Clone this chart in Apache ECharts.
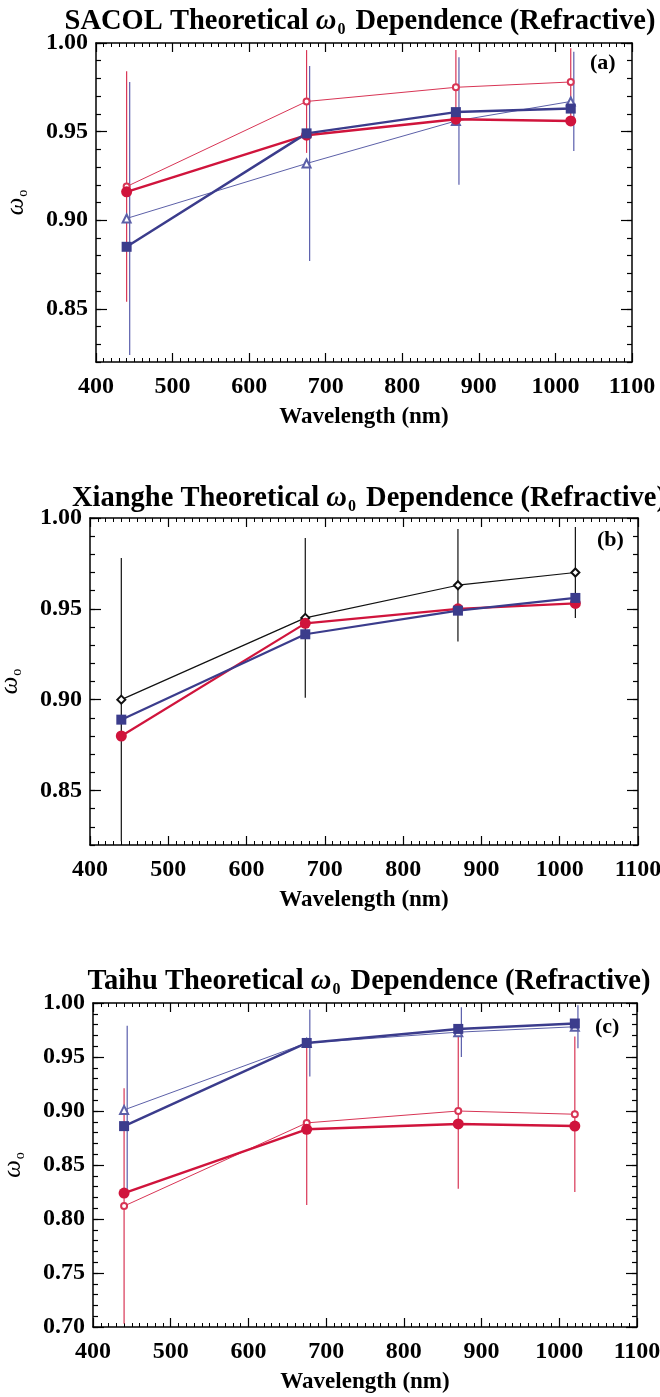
<!DOCTYPE html>
<html><head><meta charset="utf-8">
<script src="https://cdn.jsdelivr.net/npm/echarts@6/dist/echarts.min.js"></script>
<style>html,body{margin:0;padding:0;background:#fff}#c{width:660px;height:1397px}</style>
</head><body><div id="c"></div>
<script>
// ---------- data ----------
const wavelengths = [440, 675, 870, 1020];
const xTickStep = 100;
const yMajorStep = 0.05;
const yMinorStep = 0.01;

// (a) SACOL
const sacolRedFilled   = [0.916, 0.948, 0.957, 0.956];
const sacolRedOpen     = [0.919, 0.967, 0.975, 0.978];
const sacolBlueSquare  = [0.885, 0.949, 0.961, 0.963];
const sacolBlueTri     = [0.901, 0.932, 0.956, 0.967];
const sacolRedErr      = [0.065, 0.029, 0.021, 0.019];
const sacolBlueErr     = [0.077, 0.055, 0.036, 0.028];

// (b) Xianghe
const xhBlackOpen      = [0.900, 0.945, 0.963, 0.970];
const xhRedFilled      = [0.880, 0.942, 0.950, 0.953];
const xhBlueSquare     = [0.889, 0.936, 0.949, 0.956];
const xhBlackErr       = [0.078, 0.044, 0.031, 0.025];

// (c) Taihu
const thBlueSquare     = [0.886, 0.963, 0.976, 0.981];
const thBlueTri        = [0.901, 0.963, 0.973, 0.978];
const thRedFilled      = [0.824, 0.883, 0.888, 0.886];
const thRedOpen        = [0.812, 0.889, 0.900, 0.897];
const thBlueErr        = [0.078, 0.031, 0.023, 0.020];
const thRedErr         = [0.109, 0.076, 0.072, 0.072];

const blueErrShift = 4; // nm, error bars drawn slightly right of the point

const titles = ['SACOL', 'Xianghe', 'Taihu'];
const tags = ['(a)', '(b)', '(c)'];
const yRanges = [[0.82, 1.00], [0.82, 1.00], [0.70, 1.00]];

// ---------- style ----------
const FONT = '"Liberation Serif","Times New Roman",serif';
const RED = '#d0143c', RED_THIN = '#d83555';
const BLUE = '#3b3c8c', BLUE_THIN = '#5c60a8', BLUE_ERR = '#5a5eac';
const BLACK = '#111111';

const grids = [
  {left: 96, top: 43, width: 536, height: 319},
  {left: 90, top: 518, width: 548, height: 327},
  {left: 93, top: 1003, width: 544, height: 324}
];
const titleCenters = [[355, 0], [364, 477], [364, 960]];
const tagPos = [[585, 47], [592, 524], [590, 1011]];

function majors(r) {
  const out = [];
  const k0 = Math.ceil(r[0] / yMajorStep - 1e-9), k1 = Math.floor(r[1] / yMajorStep + 1e-9);
  for (let k = k0; k <= k1; k++) out.push(+(k * yMajorStep).toFixed(2));
  return out;
}

const xAxis = [], yAxis = [], series = [], title = [];
const labelStyle = {fontFamily: FONT, fontWeight: 'bold', fontSize: 24, color: '#000'};
const nameStyle = {fontFamily: FONT, fontWeight: 'bold', fontSize: 23, color: '#000'};
const lineBlack = {color: '#000', width: 1.5};

grids.forEach((g, i) => {
  const r = yRanges[i];
  const mj = majors(r);
  ['bottom', 'top'].forEach(pos => {
    xAxis.push({
      gridIndex: i, type: 'value', position: pos, min: 400, max: 1100, interval: xTickStep,
      axisLine: {show: true, onZero: false, lineStyle: lineBlack},
      axisTick: {show: true, inside: true, length: 9, lineStyle: {color: '#000', width: 1.2}},
      minorTick: {show: true, splitNumber: 10, length: 4, lineStyle: {color: '#000', width: 1}},
      splitLine: {show: false}, minorSplitLine: {show: false},
      axisLabel: pos === 'bottom' ? Object.assign({margin: 13, formatter: v => String(v)}, labelStyle) : {show: false},
      name: pos === 'bottom' ? 'Wavelength (nm)' : '',
      nameLocation: 'middle', nameGap: 44,
      nameTextStyle: nameStyle
    });
  });
  ['left', 'right'].forEach(pos => {
    yAxis.push({
      gridIndex: i, type: 'value', position: pos, min: r[0], max: r[1], interval: yMinorStep,
      axisLine: {show: false},
      axisTick: {show: true, inside: true, length: 5, lineStyle: {color: '#000', width: 1.2}},
      axisLabel: {show: false}, splitLine: {show: false}
    });
    yAxis.push({
      gridIndex: i, type: 'value', position: pos, min: r[0], max: r[1],
      axisLine: {show: true, onZero: false, lineStyle: lineBlack},
      axisTick: {show: true, inside: true, length: 11, customValues: mj, lineStyle: {color: '#000', width: 1.2}},
      axisLabel: pos === 'left' ? Object.assign({margin: 8, customValues: mj, formatter: v => v.toFixed(2)}, labelStyle) : {show: false},
      splitLine: {show: false},
      name: pos === 'left' ? '{w|ω}{s|o}' : '',
      nameLocation: 'middle', nameRotate: 90, nameGap: 66,
      nameTextStyle: {rich: {
        w: {fontFamily: FONT, fontStyle: 'italic', fontSize: 25, color: '#000'},
        s: {fontFamily: FONT, fontSize: 14, color: '#000', padding: [13, 0, 0, 1]}
      }}
    });
  });
  title.push({
    text: '{b|' + titles[i] + ' Theoretical }{w|ω}{s|0}{b| Dependence (Refractive)}',
    left: titleCenters[i][0], top: titleCenters[i][1], textAlign: 'center',
    textStyle: {rich: {
      b: {fontFamily: FONT, fontWeight: 'bold', fontSize: 28.5, color: '#000'},
      w: {fontFamily: FONT, fontStyle: 'italic', fontSize: 28.5, color: '#000'},
      s: {fontFamily: FONT, fontWeight: 'bold', fontSize: 16, color: '#000', padding: [17, 3, 0, 1]}
    }}
  });
  title.push({
    text: tags[i], left: tagPos[i][0], top: tagPos[i][1],
    textStyle: {fontFamily: FONT, fontWeight: 'bold', fontSize: 22, color: '#000'}
  });
});

function pts(vals) { return wavelengths.map((w, k) => [w, vals[k]]); }
function bars(vals, errs, shift) { return wavelengths.map((w, k) => [w + shift, vals[k] - errs[k], vals[k] + errs[k]]); }

function lineSeries(i, vals, opt) {
  return {
    type: 'line', xAxisIndex: 2 * i, yAxisIndex: 4 * i + 1, data: pts(vals),
    symbol: opt.symbol, symbolSize: opt.size, showAllSymbol: true, animation: false,
    lineStyle: {color: opt.color, width: opt.width},
    itemStyle: {color: opt.color, borderColor: opt.color, borderWidth: opt.bw || 0},
    z: opt.z || 3
  };
}
function errSeries(i, vals, errs, color, shift) {
  return {
    type: 'custom', xAxisIndex: 2 * i, yAxisIndex: 4 * i + 1, clip: false, animation: false,
    data: bars(vals, errs, shift), encode: {x: 0, y: [1, 2]}, z: 2,
    renderItem: (params, api) => {
      const lo = api.coord([api.value(0), api.value(1)]);
      const hi = api.coord([api.value(0), api.value(2)]);
      return {type: 'line', shape: {x1: lo[0], y1: lo[1], x2: hi[0], y2: hi[1]},
              style: {stroke: color, lineWidth: 1.2}};
    }
  };
}

// (a)
series.push(errSeries(0, sacolRedOpen, sacolRedErr, RED_THIN, 0));
series.push(errSeries(0, sacolBlueTri, sacolBlueErr, BLUE_ERR, blueErrShift));
series.push(lineSeries(0, sacolRedOpen, {symbol: 'emptyCircle', size: 6, color: RED_THIN, width: 1, bw: 1}));
series.push(lineSeries(0, sacolBlueTri, {symbol: 'emptyTriangle', size: 8, color: BLUE_THIN, width: 1, bw: 1}));
series.push(lineSeries(0, sacolRedFilled, {symbol: 'circle', size: 11, color: RED, width: 2.5, z: 4}));
series.push(lineSeries(0, sacolBlueSquare, {symbol: 'rect', size: 10, color: BLUE, width: 2.5, z: 4}));
// (b)
series.push(errSeries(1, xhBlackOpen, xhBlackErr, BLACK, 0));
series.push(lineSeries(1, xhBlackOpen, {symbol: 'emptyDiamond', size: 8, color: BLACK, width: 1.2, bw: 1}));
series.push(lineSeries(1, xhRedFilled, {symbol: 'circle', size: 11, color: RED, width: 2.2, z: 4}));
series.push(lineSeries(1, xhBlueSquare, {symbol: 'rect', size: 10, color: BLUE, width: 2.2, z: 4}));
// (c)
series.push(errSeries(2, thRedOpen, thRedErr, RED_THIN, 0));
series.push(errSeries(2, thBlueTri, thBlueErr, BLUE_ERR, blueErrShift));
series.push(lineSeries(2, thRedOpen, {symbol: 'emptyCircle', size: 6, color: RED_THIN, width: 1, bw: 1}));
series.push(lineSeries(2, thBlueTri, {symbol: 'emptyTriangle', size: 8, color: BLUE_THIN, width: 1, bw: 1}));
series.push(lineSeries(2, thRedFilled, {symbol: 'circle', size: 11, color: RED, width: 2.5, z: 4}));
series.push(lineSeries(2, thBlueSquare, {symbol: 'rect', size: 10, color: BLUE, width: 2.5, z: 4}));

const chart = echarts.init(document.getElementById('c'), null, {renderer: 'canvas'});
chart.setOption({
  animation: false,
  backgroundColor: '#fff',
  title: title,
  grid: grids.map(g => Object.assign({containLabel: false, outerBoundsMode: 'none'}, g)),
  xAxis: xAxis, yAxis: yAxis, series: series
});
</script></body></html>
